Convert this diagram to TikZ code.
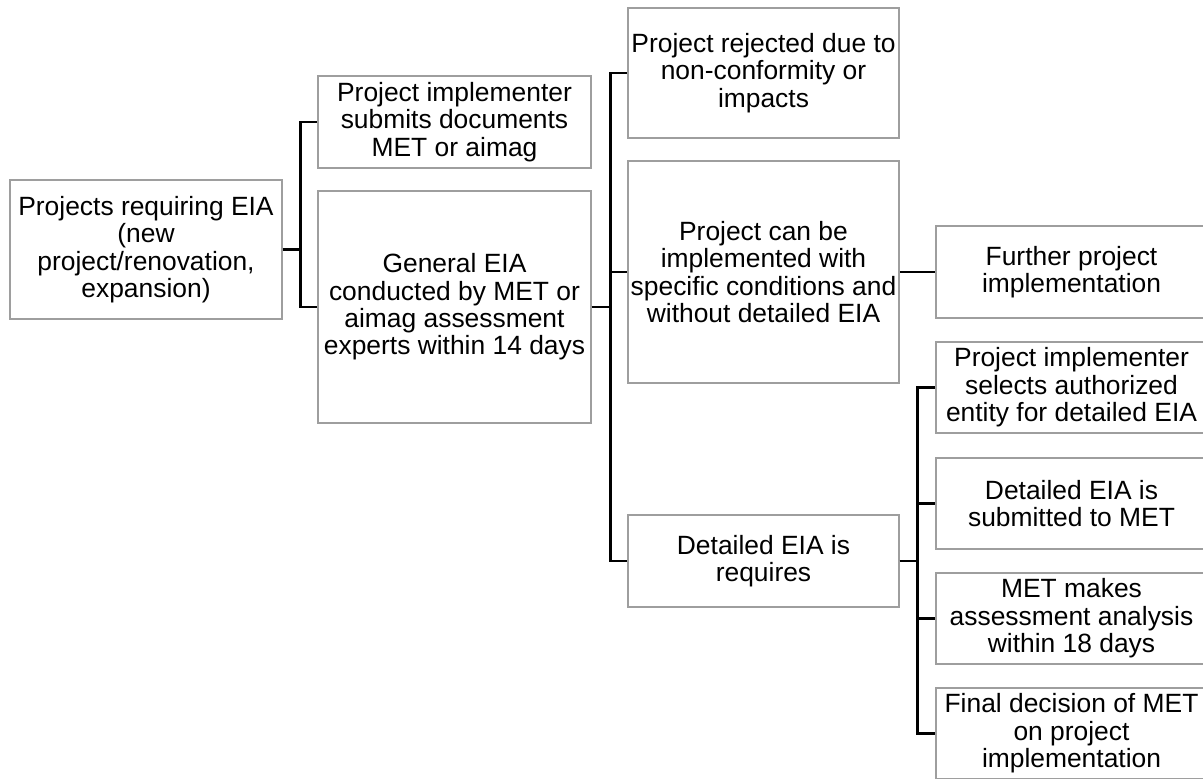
\documentclass[tikz,border=0pt]{standalone}
\usepackage{fontspec}
\setmainfont{Liberation Sans}
\usetikzlibrary{positioning}

\begin{document}
\begin{tikzpicture}[x=0.5pt,y=-0.5pt,
  eiabox/.style={draw=black!38,line width=0.75pt,inner sep=0pt,align=center,
    minimum width=135.5pt,font=\fontsize{13.2}{13.7}\selectfont},
  tree/.style={line width=1.45pt,black}]
\useasboundingbox (0,0) rectangle (1203,778);
\clip (0,0) rectangle (1203,778);
% first column
\node[eiabox,minimum width=136pt,minimum height=69.5pt] (root) at (146,249.5)
  {Projects requiring EIA\\(new\\project/renovation,\\expansion)};
% second column
\node[eiabox,minimum width=136.5pt,minimum height=46pt] (submit) at (454.5,122)
  {Project implementer\\submits documents\\MET or aimag};
\node[eiabox,minimum width=136.5pt,minimum height=116pt] (general) at (454.5,307)
  {General EIA\\conducted by MET or\\aimag assessment\\experts within 14 days};
% third column
\node[eiabox,minimum height=65pt] (rejected) at (763.5,73)
  {Project rejected due to\\non-conformity or\\impacts};
\node[eiabox,minimum height=111pt] (conditions) at (763.5,272)
  {Project can be\\implemented with\\specific conditions and\\without detailed EIA};
\node[eiabox,minimum height=46pt] (requires) at (763.5,561)
  {Detailed EIA is\\requires};
% fourth column
\node[eiabox,minimum height=46pt] (further) at (1071.5,272)
  {Further project\\implementation};
\node[eiabox,minimum height=45.5pt] (selects) at (1071.5,387.5)
  {Project implementer\\selects authorized\\entity for detailed EIA};
\node[eiabox,minimum height=45.5pt] (submitted) at (1071.5,503.5)
  {Detailed EIA is\\submitted to MET};
\node[eiabox,minimum height=45.5pt] (analysis) at (1071.5,618.5)
  {MET makes\\assessment analysis\\within 18 days};
\node[eiabox,minimum height=45.5pt] (decision) at (1071.5,733.5)
  {Final decision of MET\\on project\\implementation};
% connectors
\draw[tree] (root.east) -- ++(18,0) |- (submit.west);
\draw[tree] (root.east) -- ++(18,0) |- (general.west);
\draw[tree] (general.east) -- ++(19,0) |- (rejected.west);
\draw[tree] (general.east) -- ++(19,0) |- (conditions.west);
\draw[tree] (general.east) -- ++(19,0) |- (requires.west);
\draw[tree] (conditions.east) -- (further.west);
\draw[tree] (requires.east) -- ++(18,0) |- (selects.west);
\draw[tree] (requires.east) -- ++(18,0) |- (submitted.west);
\draw[tree] (requires.east) -- ++(18,0) |- (analysis.west);
\draw[tree] (requires.east) -- ++(18,0) |- (decision.west);
\end{tikzpicture}
\end{document}
